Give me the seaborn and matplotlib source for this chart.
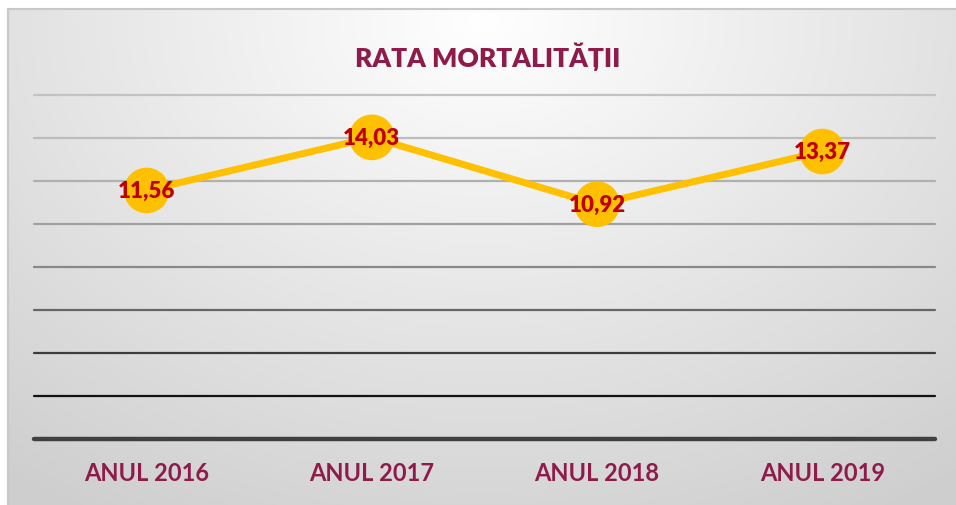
import numpy as np
import pandas as pd
import matplotlib
matplotlib.use("Agg")
import matplotlib.pyplot as plt
import seaborn as sns

categories = ["ANUL 2016", "ANUL 2017", "ANUL 2018", "ANUL 2019"]
values = [11.56, 14.03, 10.92, 13.37]
labels = ["11,56", "14,03", "10,92", "13,37"]
title = "RATA MORTALITĂȚII"

sns.set_theme(style="white")
plt.rcParams["font.family"] = ["Lato", "DejaVu Sans"]

W, H = 956, 506
fig = plt.figure(figsize=(W / 100, H / 100), dpi=100)
fig.patch.set_facecolor("white")

# background panel with radial gradient
bg = fig.add_axes([8 / W, 0, 1 - 8 / W, (H - 10) / H])
yy, xx = np.mgrid[0:200, 0:400]
cx, cy = 200, 195
d = np.sqrt(((xx - cx) / 330.0) ** 2 + ((yy - cy) / 230.0) ** 2)
d = np.clip(d, 0, 1)
g = 1.0 - 0.19 * d
img = np.dstack([g, g, g])
bg.imshow(img, aspect="auto", origin="lower", extent=[0, 1, 0, 1])
bg.set_xticks([]); bg.set_yticks([])
for s in bg.spines.values():
    s.set_color("#c8c8c8"); s.set_linewidth(1.5)
bg.spines["right"].set_visible(False)
bg.spines["bottom"].set_visible(False)

ax = fig.add_axes([34 / W, (H - 440) / H, (935 - 34) / W, (440 - 96) / H])
ax.patch.set_alpha(0)
ax.set_xlim(-0.5, 3.5)
ax.set_ylim(0, 16)

grid_colors = ["#404040", "#121212", "#3c3c3c", "#666666", "#888888",
               "#a0a0a0", "#b0b0b0", "#bcbcbc", "#c2c2c2"]
for i, yv in enumerate(np.arange(0, 17, 2)):
    if yv == 0:
        ax.axhline(yv, color=grid_colors[i], lw=3.2, zorder=1, clip_on=False)
    else:
        ax.axhline(yv, color=grid_colors[i], lw=1.6, zorder=1, clip_on=False)

df = pd.DataFrame({"cat": categories, "val": values})
sns.lineplot(data=df, x="cat", y="val", ax=ax, color="#FFC000", lw=5,
             sort=False, zorder=3)
ax.scatter(range(len(categories)), values, s=1080, color="#FFC000",
           edgecolor="none", zorder=4)
for i, (v, lab) in enumerate(zip(values, labels)):
    ax.text(i, v, lab, ha="center", va="center", color="#C00000",
            fontsize=16, fontweight="heavy", zorder=5)

ax.set_xlabel(""); ax.set_ylabel("")
ax.set_yticks([])
ax.set_xticks(range(len(categories)))
ax.set_xticklabels(categories, color="#8E1B4A", fontsize=17,
                   fontweight="bold")
ax.tick_params(axis="x", length=0, pad=16)
for s in ax.spines.values():
    s.set_visible(False)

fig.text(488 / W, 1 - 57 / H, title, ha="center", va="center",
         color="#8E1B4A", fontsize=19, fontweight="heavy",
         family=["Lato", "DejaVu Sans"])

fig.savefig("out.png", dpi=100)
